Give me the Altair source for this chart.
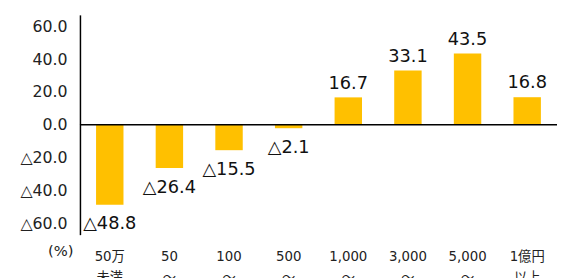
import altair as alt
import pandas as pd

# Data
categories = ["50万|未満", "50|～", "100|～", "500|～", "1,000|～", "3,000|～", "5,000|～", "1億円|以上"]
values = [-48.8, -26.4, -15.5, -2.1, 16.7, 33.1, 43.5, 16.8]
y_ticks = [-60, -40, -20, 0, 20, 40, 60]

FONT = "DejaVu Sans, Noto Sans CJK JP"

df = pd.DataFrame({"cat": categories, "value": values})
df["label"] = ["△" + f"{-v:.1f}" if v < 0 else f"{v:.1f}" for v in values]

x_enc = alt.X(
    "cat:N",
    sort=categories,
    scale=alt.Scale(paddingInner=0.54, paddingOuter=0.27),
    axis=alt.Axis(
        title=None, domain=False, ticks=False, labelAngle=0, labelOverlap=False,
        labelExpr="split(datum.label, '|')",
        labelFont=FONT, labelFontSize=13.5, labelColor="#222",
        labelLineHeight=22, labelPadding=15,
    ),
)
y_scale = alt.Scale(domain=[-67, 67], nice=False, zero=False)
y_axis = alt.Axis(
    values=y_ticks, grid=False, ticks=False, domainColor="#000", domainWidth=1.5,
    labelOverlap=False,
    labelExpr="datum.value < 0 ? '△' + format(-datum.value, '.1f') : format(datum.value, '.1f')",
    labelFont=FONT, labelFontSize=16, labelColor="#222", labelPadding=13,
    title="(%)", titleAngle=0, titleFont=FONT, titleFontSize=15, titleFontWeight="normal",
    titleColor="#222", titleAlign="center", titleBaseline="alphabetic",
    titleX=-20, titleY=244,
)
y_enc = alt.Y("value:Q", scale=y_scale, axis=y_axis)

base = alt.Chart(df)

bars = base.mark_bar(color="#FFC000").encode(x=x_enc, y=y_enc)

pos_text = base.transform_filter("datum.value >= 0").mark_text(
    font=FONT, fontSize=18, color="#111", baseline="alphabetic", dy=-9
).encode(x=x_enc, y=y_enc, text="label:N")

neg_text = base.transform_filter("datum.value < 0").mark_text(
    font=FONT, fontSize=18, color="#111", baseline="alphabetic", dy=25
).encode(x=x_enc, y=y_enc, text="label:N")

zero = alt.Chart(pd.DataFrame({"z": [0]})).mark_rule(color="#000", strokeWidth=1.5).encode(
    y=alt.datum(0, scale=y_scale, axis=y_axis)
)

chart = alt.layer(bars, zero, pos_text, neg_text).properties(
    width=484,
    height=223,
    autosize=alt.AutoSizeParams(type="none"),
    padding={"left": 73, "top": 5, "right": 0, "bottom": 42},
    background="white",
).configure_view(stroke=None).configure_axisY(labelOverlap=False)

chart.save("out.html", embed_options={"renderer": "svg", "actions": False})
